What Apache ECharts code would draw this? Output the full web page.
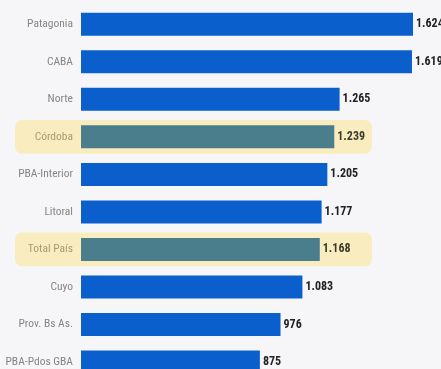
<!DOCTYPE html>
<html>
<head>
<meta charset="utf-8">
<style>
  html, body { margin: 0; padding: 0; background: #f6f6f8; }
  #chart { width: 441px; height: 369px; }
</style>
<script src="https://cdn.jsdelivr.net/npm/echarts@6/dist/echarts.min.js"></script>
</head>
<body>
<div id="chart"></div>
<script>
// Regions, top to bottom
const regions = ['Patagonia', 'CABA', 'Norte', 'Córdoba', 'PBA-Interior', 'Litoral', 'Total País', 'Cuyo', 'Prov. Bs As.', 'PBA-Pdos GBA'];
const values = [1624, 1619, 1265, 1239, 1205, 1177, 1168, 1083, 976, 875];
const highlighted = ['Córdoba', 'Total País'];

const FONT = '"Roboto Condensed", Roboto, sans-serif';
const BLUE = '#0a5fcd';
const TEAL = '#4a7e8c';
const BAND = '#f9edbf';

// thousands separator with a dot
function fmt(v) {
  return String(v).replace(/\B(?=(\d{3})+(?!\d))/g, '.');
}

const chart = echarts.init(document.getElementById('chart'));

chart.setOption({
  backgroundColor: '#f6f6f8',
  animation: false,
  grid: {
    left: 81, top: 5.5, width: 332, height: 375.3,
    containLabel: false, outerBoundsMode: 'none'
  },
  xAxis: {
    type: 'value', min: 0, max: 1624, show: false
  },
  yAxis: {
    type: 'category',
    data: regions,
    inverse: true,
    z: 5,
    axisLine: { show: false },
    axisTick: { show: false },
    axisLabel: {
      margin: 8,
      fontFamily: FONT,
      fontSize: 11.5,
      color: '#858585',
      rich: {
        hl: { fontFamily: FONT, fontSize: 11.5, color: '#a59c74' }
      },
      formatter: function (name) {
        return highlighted.indexOf(name) >= 0 ? '{hl|' + name + '}' : name;
      }
    }
  },
  series: [
    {
      // rounded highlight bands behind the selected rows
      type: 'custom',
      silent: true,
      clip: false,
      z: 1,
      data: highlighted.map(function (name) { return [0, name]; }),
      encode: { x: 0, y: 1 },
      renderItem: function (params, api) {
        const p = api.coord([0, api.value(1)]);
        const band = api.size([0, 1])[1];
        const h = band * 0.9;
        return {
          type: 'rect',
          shape: { x: p[0] - 66, y: p[1] - h / 2, width: 357, height: h, r: 7 },
          style: { fill: BAND }
        };
      }
    },
    {
      type: 'bar',
      z: 2,
      barWidth: 23,
      data: values.map(function (v, i) {
        const hl = highlighted.indexOf(regions[i]) >= 0;
        return {
          value: v,
          itemStyle: { color: hl ? TEAL : BLUE },
          label: { color: hl ? '#3b3a2c' : '#222222' }
        };
      }),
      label: {
        show: true,
        position: 'right',
        distance: 3,
        fontFamily: FONT,
        fontSize: 12,
        fontWeight: 'bold',
        formatter: function (p) { return fmt(p.value); }
      }
    }
  ]
});
</script>
</body>
</html>
